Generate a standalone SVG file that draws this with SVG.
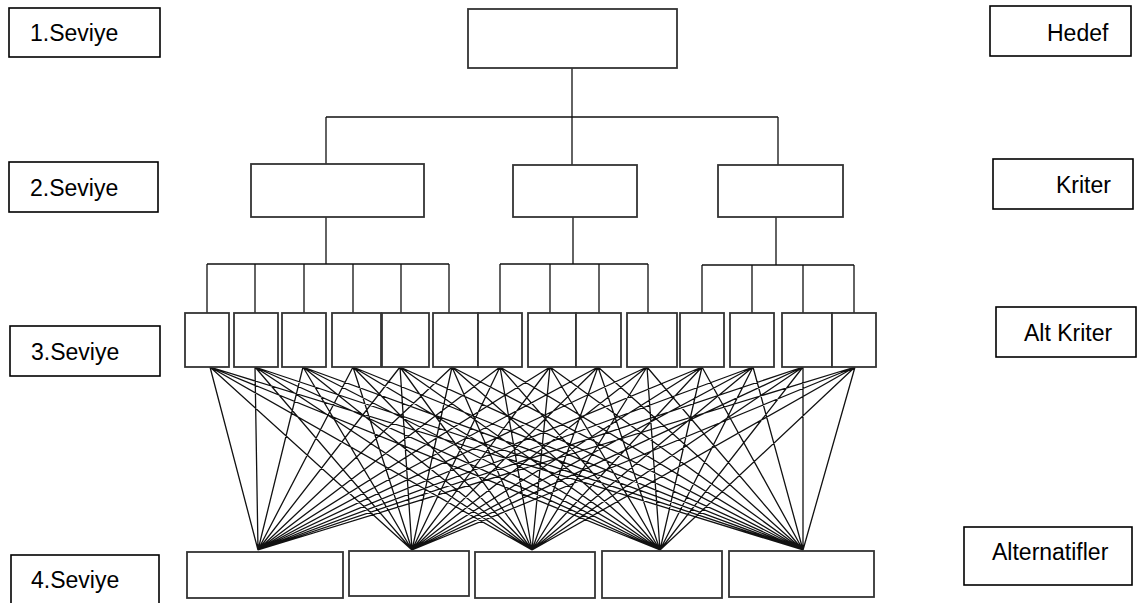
<svg xmlns="http://www.w3.org/2000/svg" width="1146" height="603" viewBox="0 0 1146 603">
<style>
.lbl rect{fill:#fff;stroke:#000;stroke-width:1.6}
.lbl text{font-family:"Liberation Sans",Arial,sans-serif;font-size:23px;fill:#000}
.n{fill:#fff;stroke:#333;stroke-width:1.8}
.c{stroke:#111;stroke-width:1.3;fill:none}
</style>
<rect width="1146" height="603" fill="#fff"/>
<g id="label-1" class="lbl"><rect x="9" y="8" width="151" height="49"/><text x="30" y="41">1.Seviye</text></g>
<g id="label-2" class="lbl"><rect x="9" y="162" width="149" height="50"/><text x="30" y="196">2.Seviye</text></g>
<g id="label-3" class="lbl"><rect x="10" y="326" width="150" height="50"/><text x="31" y="360">3.Seviye</text></g>
<g id="label-4" class="lbl"><rect x="11" y="555" width="148" height="60"/><text x="31" y="588">4.Seviye</text></g>
<g id="label-hedef" class="lbl"><rect x="990" y="6" width="141" height="50"/><text x="1047" y="41">Hedef</text></g>
<g id="label-kriter" class="lbl"><rect x="993" y="159" width="140" height="50"/><text x="1056" y="193">Kriter</text></g>
<g id="label-altkriter" class="lbl"><rect x="996" y="307" width="140" height="50"/><text x="1024" y="341">Alt Kriter</text></g>
<g id="label-alternatifler" class="lbl"><rect x="964" y="527" width="168" height="58"/><text x="992" y="560">Alternatifler</text></g>

<g id="connectors" class="c">
<path d="M572 68V117M326 117H778M326 117V164M572 117V165M778 117V165"/>
<path d="M326 217V264M207 264H449M207 264V313M255 264V313M304 264V313M353 264V313M401 264V313M449 264V313"/>
<path d="M573 217V264M500 264H648M500 264V313M550 264V313M599 264V313M648 264V313"/>
<path d="M776 217V265M702 265H854M702 265V313M752 265V313M803 265V313M854 265V313"/>
<path d="M210 367L258 550M210 367L412 550M210 367L532 550M210 367L660 550M210 367L803 550
M255 367L258 550M255 367L412 550M255 367L532 550M255 367L660 550M255 367L803 550
M303 367L258 550M303 367L412 550M303 367L532 550M303 367L660 550M303 367L803 550
M353 367L258 550M353 367L412 550M353 367L532 550M353 367L660 550M353 367L803 550
M400 367L258 550M400 367L412 550M400 367L532 550M400 367L660 550M400 367L803 550
M452 367L258 550M452 367L412 550M452 367L532 550M452 367L660 550M452 367L803 550
M500 367L258 550M500 367L412 550M500 367L532 550M500 367L660 550M500 367L803 550
M550 367L258 550M550 367L412 550M550 367L532 550M550 367L660 550M550 367L803 550
M598 367L258 550M598 367L412 550M598 367L532 550M598 367L660 550M598 367L803 550
M647 367L258 550M647 367L412 550M647 367L532 550M647 367L660 550M647 367L803 550
M702 367L258 550M702 367L412 550M702 367L532 550M702 367L660 550M702 367L803 550
M753 367L258 550M753 367L412 550M753 367L532 550M753 367L660 550M753 367L803 550
M803 367L258 550M803 367L412 550M803 367L532 550M803 367L660 550M803 367L803 550
M855 367L258 550M855 367L412 550M855 367L532 550M855 367L660 550M855 367L803 550"/>
</g>

<g id="goal"><rect class="n" x="468" y="9" width="209" height="59"/></g>
<g id="crit-1"><rect class="n" x="251" y="164" width="173" height="53"/></g>
<g id="crit-2"><rect class="n" x="513" y="165" width="124" height="52"/></g>
<g id="crit-3"><rect class="n" x="718" y="165" width="125" height="52"/></g>

<g id="sub-1"><rect class="n" x="185" y="313" width="44" height="54"/></g>
<g id="sub-2"><rect class="n" x="234" y="313" width="44" height="54"/></g>
<g id="sub-3"><rect class="n" x="282" y="313" width="44" height="54"/></g>
<g id="sub-4"><rect class="n" x="332" y="313" width="49" height="54"/></g>
<g id="sub-5"><rect class="n" x="382" y="313" width="47" height="54"/></g>
<g id="sub-6"><rect class="n" x="433" y="313" width="45" height="54"/></g>
<g id="sub-7"><rect class="n" x="478" y="313" width="44" height="54"/></g>
<g id="sub-8"><rect class="n" x="528" y="313" width="48" height="54"/></g>
<g id="sub-9"><rect class="n" x="576" y="313" width="45" height="54"/></g>
<g id="sub-10"><rect class="n" x="627" y="313" width="50" height="54"/></g>
<g id="sub-11"><rect class="n" x="680" y="313" width="44" height="54"/></g>
<g id="sub-12"><rect class="n" x="730" y="313" width="44" height="54"/></g>
<g id="sub-13"><rect class="n" x="782" y="313" width="50" height="54"/></g>
<g id="sub-14"><rect class="n" x="832" y="313" width="44" height="54"/></g>

<g id="alt-1"><rect class="n" x="187" y="552" width="156" height="46"/></g>
<g id="alt-2"><rect class="n" x="349" y="551" width="120" height="45"/></g>
<g id="alt-3"><rect class="n" x="475" y="552" width="120" height="46"/></g>
<g id="alt-4"><rect class="n" x="602" y="551" width="120" height="47"/></g>
<g id="alt-5"><rect class="n" x="729" y="551" width="145" height="46"/></g>
</svg>
